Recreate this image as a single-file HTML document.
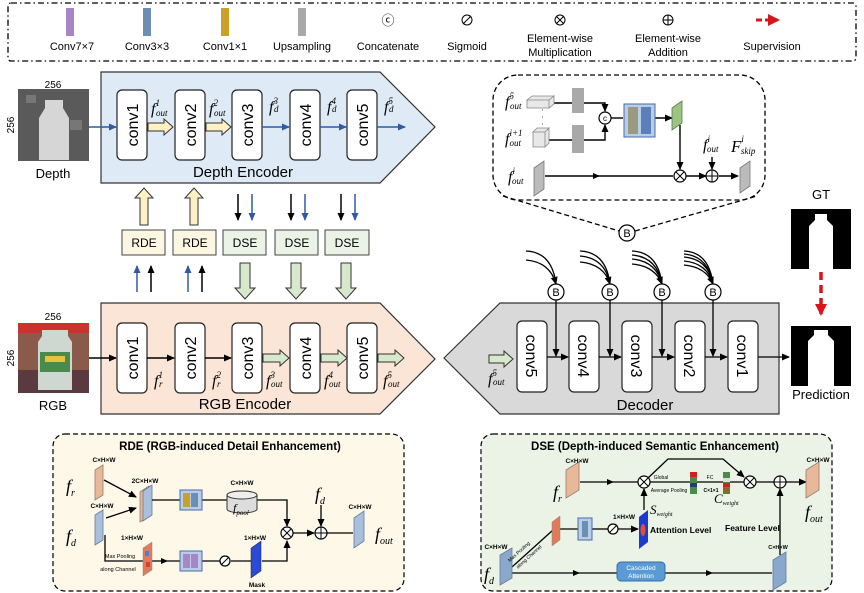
<!DOCTYPE html>
<html><head><meta charset="utf-8"><style>
html,body{margin:0;padding:0;background:#fff}
svg{display:block}
.s{font-family:"Liberation Sans",sans-serif}
.f{font-family:"Liberation Serif",serif;font-style:italic}
</style></head><body>
<svg width="864" height="593" viewBox="0 0 864 593" xmlns="http://www.w3.org/2000/svg">
<defs>
<marker id="ab" markerWidth="8" markerHeight="8" refX="7" refY="4" orient="auto" markerUnits="userSpaceOnUse"><path d="M0,0.5 L8,4 L0,7.5z" fill="#000"/></marker>
<marker id="abl" markerWidth="8" markerHeight="8" refX="7" refY="4" orient="auto" markerUnits="userSpaceOnUse"><path d="M0,0.5 L8,4 L0,7.5z" fill="#2f5aa8"/></marker>
<marker id="ar" markerWidth="12" markerHeight="12" refX="10" refY="6" orient="auto" markerUnits="userSpaceOnUse"><path d="M0,0 L12,6 L0,12z" fill="#d9141c"/></marker>
</defs>

<!-- Legend -->
<rect x="8" y="3" width="848" height="58" rx="3" fill="none" stroke="#000" stroke-width="1.3" stroke-dasharray="6,3,1.5,3"/>
<g class="s" font-size="11" text-anchor="middle">
<rect x="66" y="8" width="8" height="28" fill="#a984c7"/><text x="72" y="50">Conv7×7</text>
<rect x="143" y="8" width="8" height="28" fill="#6d8eb4"/><text x="147" y="50">Conv3×3</text>
<rect x="221" y="8" width="8" height="28" fill="#c9a128"/><text x="225" y="50">Conv1×1</text>
<rect x="298" y="8" width="8" height="28" fill="#a9a9a9"/><text x="302" y="50">Upsampling</text>
<text x="388" y="25" font-size="13">ⓒ</text><text x="388" y="50">Concatenate</text>
<circle cx="467" cy="20" r="5" fill="none" stroke="#000"/><line x1="463" y1="24" x2="471" y2="16" stroke="#000"/><text x="467" y="50">Sigmoid</text>
<circle cx="560" cy="20" r="5" fill="none" stroke="#000"/><path d="M556.5,16.5 L563.5,23.5 M563.5,16.5 L556.5,23.5" stroke="#000"/><text x="560" y="42">Element-wise</text><text x="560" y="56">Multiplication</text>
<circle cx="668" cy="20" r="5" fill="none" stroke="#000"/><path d="M663,20 H673 M668,15 V25" stroke="#000"/><text x="668" y="42">Element-wise</text><text x="668" y="56">Addition</text>
<line x1="756" y1="20" x2="778" y2="20" stroke="#d9141c" stroke-width="3" stroke-dasharray="6,3" marker-end="url(#ar)"/>
<text x="772" y="50">Supervision</text>
</g>

<!-- Depth encoder -->
<polygon points="101,72 380,72 435,127 380,183 101,183" fill="#deebf7" stroke="#333" stroke-width="1.2"/>
<!-- depth image -->
<rect x="18" y="89" width="71" height="72" fill="#5a5a5a"/>
<path d="M45,100 h18 v8 l6,10 v42 h-30 v-42 l6,-10z" fill="#d6d6d6"/>
<rect x="26" y="95" width="10" height="8" fill="#777"/><rect x="70" y="120" width="12" height="10" fill="#777"/>
<text class="s" x="53" y="88" font-size="10" text-anchor="middle">256</text>
<text class="s" x="14" y="125" font-size="10" text-anchor="middle" transform="rotate(-90 14 125)">256</text>
<text class="s" x="53" y="178" font-size="13" text-anchor="middle">Depth</text>
<line x1="89" y1="127" x2="116" y2="127" stroke="#2f5aa8" stroke-width="1.5" marker-end="url(#abl)"/>
<g class="s" font-size="16" text-anchor="middle">
<g fill="#fff" stroke="#222" stroke-width="1.2">
<rect x="117" y="90" width="30" height="70" rx="5"/><rect x="175" y="90" width="30" height="70" rx="5"/><rect x="232" y="90" width="30" height="70" rx="5"/><rect x="290" y="90" width="30" height="70" rx="5"/><rect x="347" y="90" width="30" height="70" rx="5"/>
</g>
<text transform="translate(138,125) rotate(-90)">conv1</text>
<text transform="translate(196,125) rotate(-90)">conv2</text>
<text transform="translate(253,125) rotate(-90)">conv3</text>
<text transform="translate(311,125) rotate(-90)">conv4</text>
<text transform="translate(368,125) rotate(-90)">conv5</text>
<text x="243" y="177" font-size="15">Depth Encoder</text>
</g>
<!-- yellow block arrows -->
<g fill="#fdf0c4" stroke="#333" stroke-width="1">
<path d="M148,123 h16 v-4 l9,8 l-9,8 v-4 h-16z"/>
<path d="M206,123 h16 v-4 l9,8 l-9,8 v-4 h-16z"/>
</g>
<g stroke="#2f5aa8" stroke-width="1.5">
<line x1="262" y1="127" x2="289" y2="127" marker-end="url(#abl)"/>
<line x1="320" y1="127" x2="346" y2="127" marker-end="url(#abl)"/>
<line x1="377" y1="127" x2="405" y2="127" marker-end="url(#abl)"/>
</g>
<g class="f" font-size="16">
<text x="151" y="114">f<tspan font-size="9" dy="-8">1</tspan><tspan font-size="9" dx="-4" dy="10">out</tspan></text>
<text x="209" y="114">f<tspan font-size="9" dy="-8">2</tspan><tspan font-size="9" dx="-4" dy="10">out</tspan></text>
<text x="269" y="112">f<tspan font-size="9" dy="-8">3</tspan><tspan font-size="9" dx="-4" dy="8">d</tspan></text>
<text x="327" y="112">f<tspan font-size="9" dy="-8">4</tspan><tspan font-size="9" dx="-4" dy="8">d</tspan></text>
<text x="384" y="112">f<tspan font-size="9" dy="-8">5</tspan><tspan font-size="9" dx="-4" dy="8">d</tspan></text>
</g>

<!-- middle RDE / DSE -->
<g fill="#fdf0c4" stroke="#333" stroke-width="1">
<path d="M140,225 v-27 h-5 l9,-10 l9,10 h-5 v27z"/>
<path d="M190,225 v-27 h-5 l9,-10 l9,10 h-5 v27z"/>
</g>
<g stroke-width="1.5">
<line x1="238" y1="194" x2="238" y2="220" stroke="#000" marker-end="url(#ab)"/>
<line x1="252" y1="194" x2="252" y2="220" stroke="#2f5aa8" marker-end="url(#abl)"/>
<line x1="291" y1="194" x2="291" y2="220" stroke="#000" marker-end="url(#ab)"/>
<line x1="305" y1="194" x2="305" y2="220" stroke="#2f5aa8" marker-end="url(#abl)"/>
<line x1="341" y1="194" x2="341" y2="220" stroke="#000" marker-end="url(#ab)"/>
<line x1="355" y1="194" x2="355" y2="220" stroke="#2f5aa8" marker-end="url(#abl)"/>
<line x1="137" y1="292" x2="137" y2="266" stroke="#2f5aa8" marker-end="url(#abl)"/>
<line x1="151" y1="292" x2="151" y2="266" stroke="#000" marker-end="url(#ab)"/>
<line x1="188" y1="292" x2="188" y2="266" stroke="#2f5aa8" marker-end="url(#abl)"/>
<line x1="202" y1="292" x2="202" y2="266" stroke="#000" marker-end="url(#ab)"/>
</g>
<g stroke="#444" stroke-width="1">
<rect x="122" y="230" width="43" height="25" fill="#fdf6e3"/>
<rect x="173" y="230" width="43" height="25" fill="#fdf6e3"/>
<rect x="223" y="230" width="43" height="25" fill="#ebf3e6"/>
<rect x="275" y="230" width="43" height="25" fill="#ebf3e6"/>
<rect x="325" y="230" width="44" height="25" fill="#ebf3e6"/>
</g>
<g class="s" font-size="12" text-anchor="middle">
<text x="144" y="247">RDE</text><text x="195" y="247">RDE</text>
<text x="245" y="247">DSE</text><text x="297" y="247">DSE</text><text x="347" y="247">DSE</text>
</g>
<g fill="#d8e8cc" stroke="#333" stroke-width="1">
<path d="M240,263 v25 h-5 l10,11 l10,-11 h-5 v-25z"/>
<path d="M291,263 v25 h-5 l10,11 l10,-11 h-5 v-25z"/>
<path d="M341,263 v25 h-5 l10,11 l10,-11 h-5 v-25z"/>
</g>

<!-- RGB encoder -->
<polygon points="101,303 380,303 435,359 380,414 101,414" fill="#fbe5d6" stroke="#333" stroke-width="1.2"/>
<rect x="18" y="323" width="71" height="70" fill="#8a5a4a"/>
<rect x="18" y="323" width="71" height="10" fill="#c8332e"/>
<rect x="18" y="370" width="71" height="23" fill="#5a3a40"/>
<path d="M42,330 h26 v6 l4,6 v48 h-34 v-48 l4,-6z" fill="#cfd8d0"/>
<rect x="40" y="352" width="30" height="20" fill="#4a8a4a"/><rect x="45" y="356" width="20" height="6" fill="#e8c23a"/>
<text class="s" x="53" y="320" font-size="10" text-anchor="middle">256</text>
<text class="s" x="14" y="358" font-size="10" text-anchor="middle" transform="rotate(-90 14 358)">256</text>
<text class="s" x="53" y="410" font-size="13" text-anchor="middle">RGB</text>
<line x1="89" y1="358" x2="116" y2="358" stroke="#000" stroke-width="1.5" marker-end="url(#ab)"/>
<g class="s" font-size="16" text-anchor="middle">
<g fill="#fff" stroke="#222" stroke-width="1.2">
<rect x="117" y="323" width="30" height="70" rx="5"/><rect x="175" y="323" width="30" height="70" rx="5"/><rect x="232" y="323" width="30" height="70" rx="5"/><rect x="290" y="323" width="30" height="70" rx="5"/><rect x="347" y="323" width="30" height="70" rx="5"/>
</g>
<text transform="translate(138,358) rotate(-90)">conv1</text>
<text transform="translate(196,358) rotate(-90)">conv2</text>
<text transform="translate(253,358) rotate(-90)">conv3</text>
<text transform="translate(311,358) rotate(-90)">conv4</text>
<text transform="translate(368,358) rotate(-90)">conv5</text>
<text x="245" y="409" font-size="15">RGB Encoder</text>
</g>
<g stroke="#000" stroke-width="1.5">
<line x1="147" y1="358" x2="174" y2="358" marker-end="url(#ab)"/>
<line x1="205" y1="358" x2="231" y2="358" marker-end="url(#ab)"/>
</g>
<g fill="#d8e8cc" stroke="#333" stroke-width="1">
<path d="M263,354 h17 v-4 l9,8 l-9,8 v-4 h-17z"/>
<path d="M321,354 h17 v-4 l9,8 l-9,8 v-4 h-17z"/>
<path d="M378,354 h17 v-4 l9,8 l-9,8 v-4 h-17z"/>
</g>
<g class="f" font-size="16">
<text x="154" y="386">f<tspan font-size="9" dy="-8">1</tspan><tspan font-size="9" dx="-4" dy="9">r</tspan></text>
<text x="212" y="386">f<tspan font-size="9" dy="-8">2</tspan><tspan font-size="9" dx="-4" dy="9">r</tspan></text>
<text x="266" y="386">f<tspan font-size="9" dy="-8">3</tspan><tspan font-size="9" dx="-4" dy="9">out</tspan></text>
<text x="324" y="386">f<tspan font-size="9" dy="-8">4</tspan><tspan font-size="9" dx="-4" dy="9">out</tspan></text>
<text x="383" y="386">f<tspan font-size="9" dy="-8">5</tspan><tspan font-size="9" dx="-4" dy="9">out</tspan></text>
</g>

<!-- Decoder -->
<polygon points="444,358 500,303 779,303 779,414 500,414" fill="#d9d9d9" stroke="#333" stroke-width="1.2"/>
<g class="s" font-size="16" text-anchor="middle">
<g fill="#fff" stroke="#222" stroke-width="1.2">
<rect x="517" y="321" width="30" height="71" rx="5"/><rect x="569" y="321" width="30" height="71" rx="5"/><rect x="622" y="321" width="30" height="71" rx="5"/><rect x="675" y="321" width="30" height="71" rx="5"/><rect x="728" y="321" width="30" height="71" rx="5"/>
</g>
<text transform="translate(526,356) rotate(90)">conv5</text>
<text transform="translate(578,356) rotate(90)">conv4</text>
<text transform="translate(631,356) rotate(90)">conv3</text>
<text transform="translate(684,356) rotate(90)">conv2</text>
<text transform="translate(737,356) rotate(90)">conv1</text>
<text x="645" y="410" font-size="15">Decoder</text>
</g>
<path d="M489,355 h15 v-4 l9,8 l-9,8 v-4 h-15z" fill="#d8e8cc" stroke="#333"/>
<text class="f" x="488" y="384" font-size="16">f<tspan font-size="9" dy="-8">5</tspan><tspan font-size="9" dx="-4" dy="9">out</tspan></text>
<g stroke="#000" stroke-width="1.3" fill="none">
<line x1="547" y1="357" x2="568" y2="357" marker-end="url(#ab)"/>
<line x1="599" y1="357" x2="621" y2="357" marker-end="url(#ab)"/>
<line x1="652" y1="357" x2="674" y2="357" marker-end="url(#ab)"/>
<line x1="705" y1="357" x2="727" y2="357" marker-end="url(#ab)"/>
<line x1="758" y1="357" x2="789" y2="357" marker-end="url(#ab)"/>
<line x1="556" y1="300" x2="556" y2="356" marker-end="url(#ab)"/>
<line x1="610" y1="300" x2="610" y2="356" marker-end="url(#ab)"/>
<line x1="662" y1="300" x2="662" y2="356" marker-end="url(#ab)"/>
<line x1="713" y1="300" x2="713" y2="356" marker-end="url(#ab)"/>
<path d="M526,251 Q552,252 556,284"/><path d="M526,260 Q550,262 556,284" marker-end="url(#ab)"/>
<path d="M580,251 Q606,252 610,284"/><path d="M580,256 Q605,258 610,284"/><path d="M580,262 Q604,264 610,284" marker-end="url(#ab)"/>
<path d="M632,251 Q658,252 662,284"/><path d="M632,255 Q657,257 662,284"/><path d="M632,259 Q656,261 662,284"/><path d="M632,264 Q655,266 662,284" marker-end="url(#ab)"/>
<path d="M684,251 Q709,252 713,284"/><path d="M684,254 Q708,256 713,284"/><path d="M684,257 Q708,259 713,284"/><path d="M684,261 Q707,263 713,284"/><path d="M684,265 Q706,267 713,284" marker-end="url(#ab)"/>
</g>
<g fill="#fff" stroke="#000" stroke-width="1.2">
<circle cx="556" cy="292" r="8"/><circle cx="610" cy="292" r="8"/><circle cx="662" cy="292" r="8"/><circle cx="713" cy="292" r="8"/><circle cx="627" cy="233" r="8"/>
</g>
<g class="s" font-size="11" text-anchor="middle">
<text x="556" y="296">B</text><text x="610" y="296">B</text><text x="662" y="296">B</text><text x="713" y="296">B</text><text x="627" y="237">B</text>
</g>

<!-- zoom box -->
<rect x="493" y="75" width="272" height="125" rx="25" fill="#fff" stroke="#000" stroke-width="1.3" stroke-dasharray="5,3"/>
<path d="M503,196 L619,231 M635,231 L757,196" stroke="#000" stroke-width="1.3" stroke-dasharray="5,3" fill="none"/>
<g stroke="#000" stroke-width="1.4" fill="none">
<path d="M553,103 H605 V111" marker-end="url(#ab)"/>
<path d="M547,140 H605 V125" marker-end="url(#ab)"/>
<line x1="611" y1="118" x2="623" y2="118"/>
<line x1="655" y1="118" x2="672" y2="118" marker-end="url(#ab)"/>
<line x1="680" y1="125" x2="680" y2="169" marker-end="url(#ab)"/>
<line x1="545" y1="176" x2="673" y2="176"/>
<line x1="686" y1="176" x2="706" y2="176" marker-end="url(#ab)"/>
<line x1="712" y1="157" x2="712" y2="169" marker-end="url(#ab)"/>
<line x1="719" y1="176" x2="738" y2="176" marker-end="url(#ab)"/>
</g>
<path d="M600,176 l-7,-3 v6z" fill="#000"/>
<rect x="572" y="88" width="12" height="25" fill="#a9a9a9"/>
<rect x="572" y="125" width="12" height="28" fill="#a9a9a9"/>
<path d="M527,100 l5,-4 h22 l-5,4z M527,100 h22 v8 h-22z M549,100 l5,-4 v8 l-5,4z" fill="#e8e8e8" stroke="#888" stroke-width="0.8"/>
<path d="M533,132 h12 v15 h-12z M533,132 l4,-4 h12 l-4,4z M545,132 l4,-4 v15 l-4,4z" fill="#e8e8e8" stroke="#888" stroke-width="0.8"/>
<text x="541" y="113" font-size="8">·</text><text x="541" y="120" font-size="8">·</text><text x="541" y="127" font-size="8">·</text>
<circle cx="605" cy="118" r="6" fill="#fff" stroke="#000" stroke-width="1.2"/><text class="s" x="605" y="121" font-size="8" text-anchor="middle">c</text>
<rect x="624" y="104" width="31" height="33" fill="#b8cde8" stroke="#4a6aa8"/>
<rect x="628" y="107" width="10" height="27" fill="#9a9a82"/><rect x="641" y="107" width="10" height="27" fill="#5b7fb8"/>
<path d="M672,108 l10,-7 v22 l-10,7z" fill="#9dc383" stroke="#5a7a4a" stroke-width="0.8"/>
<path d="M534,168 l10,-7 v28 l-10,7z" fill="#bbb" stroke="#777" stroke-width="0.8"/>
<path d="M740,168 l10,-7 v25 l-10,7z" fill="#bbb" stroke="#777" stroke-width="0.8"/>
<circle cx="680" cy="176" r="6" fill="#fff" stroke="#000" stroke-width="1.2"/><path d="M676,172 l8,8 M684,172 l-8,8" stroke="#000"/>
<circle cx="712" cy="176" r="6" fill="#fff" stroke="#000" stroke-width="1.2"/><path d="M706,176 h12 M712,170 v12" stroke="#000"/>
<g class="f" font-size="16">
<text x="505" y="107">f<tspan font-size="9" dy="-8">5</tspan><tspan font-size="9" dx="-4" dy="10">out</tspan></text>
<text x="505" y="144">f<tspan font-size="9" dy="-8">i+1</tspan><tspan font-size="9" dx="-13" dy="10">out</tspan></text>
<text x="508" y="182">f<tspan font-size="9" dy="-8">i</tspan><tspan font-size="9" dx="-3" dy="10">out</tspan></text>
<text x="703" y="150">f<tspan font-size="9" dy="-8">i</tspan><tspan font-size="9" dx="-3" dy="10">out</tspan></text>
<text x="731" y="152" font-size="17">F<tspan font-size="9" dy="-10">i</tspan><tspan font-size="9" dx="-3" dy="12">skip</tspan></text>
</g>

<!-- GT / prediction -->
<text class="s" x="821" y="199" font-size="13" text-anchor="middle">GT</text>
<rect x="791" y="209" width="60" height="60" fill="#000"/>
<path d="M815,214 h12 v6 l6,6 v43 h-24 v-43 l6,-6z" fill="#fff"/>
<line x1="821" y1="272" x2="821" y2="314" stroke="#d9141c" stroke-width="3.5" stroke-dasharray="8,5" marker-end="url(#ar)"/>
<rect x="791" y="326" width="60" height="60" fill="#000"/>
<path d="M814,330 h14 v5 l6,6 v45 h-26 v-45 l6,-6z" fill="#fff"/>
<text class="s" x="821" y="399" font-size="13" text-anchor="middle">Prediction</text>

<!-- RDE detail -->
<rect x="53" y="434" width="351" height="157" rx="12" fill="#fef8e8" stroke="#000" stroke-width="1.2" stroke-dasharray="5,3"/>
<text class="s" x="230" y="450" font-size="11.5" font-weight="bold" text-anchor="middle">RDE (RGB-induced Detail Enhancement)</text>
<g class="s" font-size="6.5" font-weight="bold" text-anchor="middle">
<text x="104" y="462">C×H×W</text><text x="102" y="508">C×H×W</text><text x="145" y="483">2C×H×W</text>
<text x="242" y="485">C×H×W</text><text x="360" y="509">C×H×W</text><text x="132" y="540">1×H×W</text><text x="255" y="540">1×H×W</text><text x="257" y="587">Mask</text>
</g>
<g class="s" font-size="5.5" text-anchor="middle"><text x="120" y="558">Max Pooling</text><text x="118" y="571">along Channel</text></g>
<path d="M95,470 l8,-5 v30 l-8,5z" fill="#e8b89a" stroke="#9a7a6a" stroke-width="0.8"/>
<path d="M95,515 l8,-5 v30 l-8,5z" fill="#a8c0dc" stroke="#6a7a9a" stroke-width="0.8"/>
<path d="M140,492 l9,-6 v30 l-9,6z" fill="#e8b89a" stroke="#9a7a6a" stroke-width="0.8"/>
<path d="M143,491 l9,-6 v30 l-9,6z" fill="#a8c0dc" stroke="#6a7a9a" stroke-width="0.8"/>
<g stroke="#000" stroke-width="1.3" fill="none">
<line x1="104" y1="480" x2="136" y2="497" marker-end="url(#ab)"/>
<line x1="106" y1="518" x2="136" y2="508" marker-end="url(#ab)"/>
<line x1="152" y1="500" x2="181" y2="500"/><line x1="202" y1="500" x2="227" y2="500"/>
<path d="M257,500 H287 V526" marker-end="url(#ab)"/>
<path d="M105,535 V561 H143"/><line x1="152" y1="561" x2="180" y2="561"/>
<line x1="202" y1="561" x2="220" y2="561"/><line x1="231" y1="561" x2="251" y2="561"/>
<path d="M262,561 H287 V541" marker-end="url(#ab)"/>
<line x1="293" y1="533" x2="314" y2="533" marker-end="url(#ab)"/>
<line x1="321" y1="505" x2="321" y2="526" marker-end="url(#ab)"/>
<line x1="327" y1="533" x2="353" y2="533"/>
</g>
<path d="M168,561 l-7,-3 v6z" fill="#000"/>
<rect x="180" y="490" width="22" height="20" fill="#b8cde8" stroke="#4a6aa8"/><rect x="183" y="493" width="7" height="14" fill="#c9a128"/><rect x="191" y="493" width="7" height="14" fill="#6d8eb4"/>
<rect x="180" y="551" width="22" height="20" fill="#b8cde8" stroke="#4a6aa8"/><rect x="183" y="554" width="7" height="14" fill="#a984c7"/><rect x="191" y="554" width="7" height="14" fill="#a984c7"/>
<path d="M227,495 a15,4 0 0 1 30,0 v14 a15,4 0 0 1 -30,0z" fill="#ddd" stroke="#333"/><ellipse cx="242" cy="495" rx="15" ry="4" fill="#eee" stroke="#333"/>
<text class="f" x="233" y="512" font-size="12">f<tspan font-size="7" dy="3">pool</tspan></text>
<path d="M143,548 l9,-6 v28 l-9,6z" fill="#e07a5a" stroke="#888" stroke-width="0.5"/>
<rect x="145" y="551" width="4" height="5" fill="#5a7ac8"/><rect x="146" y="562" width="4" height="5" fill="#d94030"/>
<path d="M251,548 l10,-7 v30 l-10,7z" fill="#2a4ad8" stroke="#222" stroke-width="0.5"/>
<circle cx="225" cy="561" r="5" fill="#fff" stroke="#000" stroke-width="1.2"/><line x1="221" y1="565" x2="229" y2="557" stroke="#000"/>
<circle cx="287" cy="533" r="6" fill="#fff" stroke="#000" stroke-width="1.2"/><path d="M283,529 l8,8 M291,529 l-8,8" stroke="#000"/>
<circle cx="321" cy="533" r="6" fill="#fff" stroke="#000" stroke-width="1.2"/><path d="M315,533 h12 M321,527 v12" stroke="#000"/>
<path d="M354,518 l10,-7 v30 l-10,7z" fill="#a8c0dc" stroke="#6a7a9a" stroke-width="0.8"/>
<g class="f" font-size="18">
<text x="66" y="492">f<tspan font-size="10" dy="4">r</tspan></text>
<text x="66" y="542">f<tspan font-size="10" dy="4">d</tspan></text>
<text x="315" y="500">f<tspan font-size="10" dy="4">d</tspan></text>
<text x="375" y="540">f<tspan font-size="10" dy="4">out</tspan></text>
</g>

<!-- DSE detail -->
<rect x="481" y="434" width="351" height="157" rx="12" fill="#ebf3e6" stroke="#000" stroke-width="1.2" stroke-dasharray="5,3"/>
<text class="s" x="655" y="450" font-size="11.5" font-weight="bold" text-anchor="middle">DSE (Depth-induced Semantic Enhancement)</text>
<g stroke="#000" stroke-width="1.3" fill="none">
<line x1="580" y1="482" x2="638" y2="482"/>
<path d="M648,478 L668,459 H723 L744,477" marker-end="url(#ab)"/>
<line x1="650" y1="482" x2="744" y2="482"/>
<line x1="756" y1="482" x2="774" y2="482"/>
<line x1="786" y1="482" x2="806" y2="482" marker-end="url(#ab)"/>
<line x1="644" y1="510" x2="644" y2="489" marker-end="url(#ab)"/>
<line x1="560" y1="529" x2="578" y2="529"/><line x1="592" y1="529" x2="608" y2="529"/>
<line x1="618" y1="529" x2="638" y2="529" marker-end="url(#ab)"/>
<line x1="512" y1="567" x2="553" y2="530"/>
<line x1="512" y1="573" x2="617" y2="573"/><line x1="665" y1="573" x2="772" y2="573"/>
<line x1="780" y1="555" x2="780" y2="489" marker-end="url(#ab)"/>
</g>
<path d="M614,482 l-7,-3 v6z M580,573 l-7,-3 v6z M713,573 l-7,-3 v6z" fill="#000"/>
<path d="M566,470 l13,-8 v28 l-13,8z" fill="#e8b89a" stroke="#9a7a6a" stroke-width="0.8"/>
<path d="M806,470 l13,-8 v28 l-13,8z" fill="#e8b89a" stroke="#9a7a6a" stroke-width="0.8"/>
<path d="M500,555 l12,-7 v30 l-12,7z" fill="#8aa8cc" stroke="#6a7a9a" stroke-width="0.8"/>
<path d="M773,560 l13,-8 v30 l-13,8z" fill="#8aa8cc" stroke="#6a7a9a" stroke-width="0.8"/>
<path d="M552,522 l8,-6 v24 l-8,6z" fill="#e07a5a" stroke="#888" stroke-width="0.5"/>
<rect x="578" y="518" width="14" height="22" fill="#b8cde8" stroke="#4a6aa8"/><rect x="582" y="521" width="6" height="16" fill="#6d8eb4"/>
<path d="M639,517 l9,-7 v32 l-9,7z" fill="#1a3ad0"/><ellipse cx="643" cy="530" rx="2.5" ry="6" fill="#e05030"/>
<rect x="690" y="472" width="7" height="22" fill="#4a8a4a"/><rect x="690" y="472" width="7" height="5" fill="#d02020"/><rect x="690" y="483" width="7" height="4" fill="#2a3a6a"/>
<rect x="723" y="472" width="7" height="22" fill="#4a8a4a"/><rect x="723" y="478" width="7" height="4" fill="#ddd"/><rect x="723" y="483" width="7" height="4" fill="#d02020"/><rect x="723" y="488" width="7" height="5" fill="#8a6a20"/>
<rect x="617" y="562" width="48" height="19" rx="4" fill="#5b9bd5" stroke="#3a6ea5"/>
<g class="s" font-size="6.5" fill="#fff" text-anchor="middle"><text x="641" y="570">Cascaded</text><text x="641" y="578">Attention</text></g>
<circle cx="644" cy="482" r="6" fill="#fff" stroke="#000" stroke-width="1.2"/><path d="M640,478 l8,8 M648,478 l-8,8" stroke="#000"/>
<circle cx="750" cy="482" r="6" fill="#fff" stroke="#000" stroke-width="1.2"/><path d="M746,478 l8,8 M754,478 l-8,8" stroke="#000"/>
<circle cx="780" cy="482" r="6" fill="#fff" stroke="#000" stroke-width="1.2"/><path d="M774,482 h12 M780,476 v12" stroke="#000"/>
<circle cx="613" cy="529" r="5" fill="#fff" stroke="#000" stroke-width="1.2"/><line x1="609" y1="533" x2="617" y2="525" stroke="#000"/>
<g class="s" font-size="6.5" font-weight="bold" text-anchor="middle">
<text x="577" y="463">C×H×W</text><text x="818" y="462">C×H×W</text><text x="496" y="549">C×H×W</text><text x="624" y="519">1×H×W</text>
<text x="778" y="549" font-size="5.5">C×H×W</text>
</g>
<g class="s" font-size="5" text-anchor="middle">
<text x="661" y="479">Global</text><text x="669" y="492">Average Pooling</text><text x="710" y="479">FC</text><text x="711" y="492" font-weight="bold">C×1×1</text>
<text transform="translate(520,553) rotate(-42)">Max Pooling</text><text transform="translate(530,558) rotate(-42)">along Channel</text>
</g>
<g class="s" font-size="8.5" font-weight="bold"><text x="650" y="533">Attention Level</text><text x="725" y="531">Feature Level</text></g>
<g class="f" font-size="18">
<text x="553" y="498">f<tspan font-size="10" dy="4">r</tspan></text>
<text x="484" y="580">f<tspan font-size="10" dy="4">d</tspan></text>
<text x="805" y="518">f<tspan font-size="10" dy="4">out</tspan></text>
<text x="714" y="503" font-size="13">C<tspan font-size="6" dy="2">weight</tspan></text>
<text x="650" y="514" font-size="13">S<tspan font-size="6" dy="2">weight</tspan></text>
</g>
</svg>
</body></html>
